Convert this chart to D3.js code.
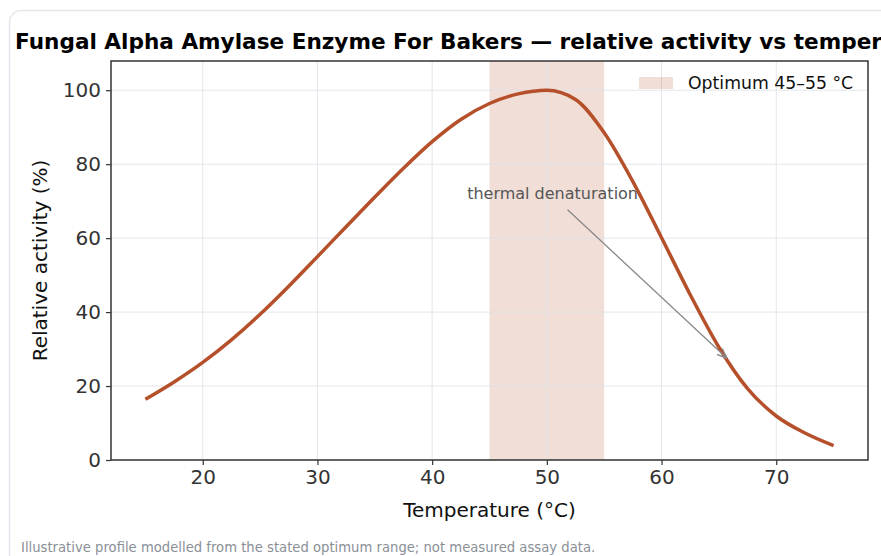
<!DOCTYPE html>
<html>
<head>
<meta charset="utf-8">
<script src="https://cdn.jsdelivr.net/npm/d3@7"></script>
<style>
  html, body { margin: 0; padding: 0; background: #fff; overflow: hidden; }
  text { font-family: "DejaVu Sans", sans-serif; }
</style>
</head>
<body>
<script>
'use strict';

// temperature (°C) and relative activity (%)
const temps = [15, 17.5, 20, 22.5, 25, 27.5, 30, 32.5, 35, 37.5, 40, 42.5, 45, 47.5, 50, 52.5, 55, 57.5, 60, 62.5, 65, 67.5, 70, 72.5, 75];
const activity = [16.4, 21.1, 26.4, 32.5, 39.4, 47.0, 55.0, 63.1, 71.1, 78.9, 86.1, 92.1, 96.4, 99.0, 100, 97.5, 88.5, 75.3, 60.1, 44.7, 30.5, 19.3, 11.9, 7.3, 3.9];
const xTicks = [20, 30, 40, 50, 60, 70];
const yTicks = [0, 20, 40, 60, 80, 100];
const optimum = [45, 55];
const pointer = { from: [50.5, 72], to: [65.7, 27.5] };

const W = 881, H = 556;
const plot = { left: 111, right: 868, top: 61, bottom: 460 };
const lineColor = "#b5502b";

let svg = d3.select("body").append("svg")
  .attr("width", W)
  .attr("height", H);

// card background
svg.append("rect")
  .attr("x", 9.5).attr("y", 10.5)
  .attr("width", 900).attr("height", 570)
  .attr("rx", 12)
  .attr("fill", "#fff")
  .attr("stroke", "#e3e6ea")
  .attr("stroke-width", 1.5);

let xScale = d3.scaleLinear().domain([12, 78]).range([plot.left, plot.right]);
let yScale = d3.scaleLinear().domain([0, 107.9]).range([plot.bottom, plot.top]);

// optimum band
svg.append("rect")
  .attr("x", xScale(optimum[0]))
  .attr("width", xScale(optimum[1]) - xScale(optimum[0]))
  .attr("y", plot.top)
  .attr("height", plot.bottom - plot.top)
  .attr("fill", lineColor)
  .attr("fill-opacity", 0.19);

// grid
let grid = svg.append("g").attr("opacity", 0.85);
grid.selectAll(".gx").data(xTicks).enter().append("line")
  .attr("x1", d => xScale(d)).attr("x2", d => xScale(d))
  .attr("y1", plot.top).attr("y2", plot.bottom)
  .attr("stroke", "#dfe3e8").attr("stroke-width", 1);
grid.selectAll(".gy").data(yTicks).enter().append("line")
  .attr("x1", plot.left).attr("x2", plot.right)
  .attr("y1", d => yScale(d)).attr("y2", d => yScale(d))
  .attr("stroke", "#dfe3e8").attr("stroke-width", 1);

// activity curve
let line = d3.line()
  .x((d, i) => xScale(temps[i]))
  .y(d => yScale(d))
  .curve(d3.curveMonotoneX);

svg.append("path")
  .datum(activity)
  .attr("d", line)
  .attr("fill", "none")
  .attr("stroke", lineColor)
  .attr("stroke-width", 3.5);

// annotation arrow
svg.append("defs").append("marker")
  .attr("id", "arrow")
  .attr("viewBox", "0 0 10 10")
  .attr("refX", 10).attr("refY", 5)
  .attr("markerWidth", 10).attr("markerHeight", 10)
  .attr("markerUnits", "userSpaceOnUse")
  .attr("orient", "auto")
  .append("path")
  .attr("d", "M0,1 L10,5 L0,9")
  .attr("fill", "none")
  .attr("stroke", "#888")
  .attr("stroke-width", 1.3);

let ax0 = xScale(pointer.from[0]) + 15, ay0 = yScale(pointer.from[1]) + 16;
svg.append("line")
  .attr("x1", ax0).attr("y1", ay0)
  .attr("x2", xScale(pointer.to[0])).attr("y2", yScale(pointer.to[1]))
  .attr("stroke", "#888")
  .attr("stroke-width", 1.3)
  .attr("marker-end", "url(#arrow)");

svg.append("text")
  .attr("x", xScale(pointer.from[0]))
  .attr("y", yScale(pointer.from[1]))
  .attr("text-anchor", "middle")
  .attr("dy", "0.35em")
  .style("font-size", "16px")
  .attr("fill", "#555")
  .text("thermal denaturation");

// axes
let xAxis = d3.axisBottom(xScale).tickValues(xTicks).tickSize(5).tickPadding(5);
let gx = svg.append("g")
  .attr("transform", "translate(0," + plot.bottom + ")")
  .call(xAxis);
let yAxis = d3.axisLeft(yScale).tickValues(yTicks).tickSize(5).tickPadding(5);
let gy = svg.append("g")
  .attr("transform", "translate(" + plot.left + ",0)")
  .call(yAxis);

[gx, gy].forEach(g => {
  g.select(".domain").remove();
  g.selectAll(".tick line").attr("stroke", "#333").attr("stroke-width", 1.2);
  g.selectAll(".tick text")
    .attr("fill", "#333")
    .style("font-family", "DejaVu Sans, sans-serif")
    .style("font-size", "20px");
});

// frame
svg.append("rect")
  .attr("x", plot.left).attr("y", plot.top)
  .attr("width", plot.right - plot.left)
  .attr("height", plot.bottom - plot.top)
  .attr("fill", "none")
  .attr("stroke", "#333")
  .attr("stroke-width", 1.5);

// legend
svg.append("rect")
  .attr("x", 639).attr("y", 77)
  .attr("width", 34).attr("height", 12)
  .attr("fill", lineColor)
  .attr("fill-opacity", 0.19);
svg.append("text")
  .attr("x", 688).attr("y", 83)
  .attr("dy", "0.35em")
  .style("font-size", "17.3px")
  .attr("fill", "#111")
  .text("Optimum 45–55 °C");

// labels (title runs past the right edge, as in the original)
svg.append("text")
  .attr("x", 15).attr("y", 49)
  .style("font-size", "21.6px")
  .style("font-weight", "bold")
  .attr("fill", "#000")
  .text("Fungal Alpha Amylase Enzyme For Bakers — relative activity vs temperature");

svg.append("text")
  .attr("x", (plot.left + plot.right) / 2).attr("y", 517)
  .attr("text-anchor", "middle")
  .style("font-size", "20px")
  .attr("fill", "#111")
  .text("Temperature (°C)");

svg.append("text")
  .attr("transform", "translate(47," + (plot.top + plot.bottom) / 2 + ") rotate(-90)")
  .attr("text-anchor", "middle")
  .style("font-size", "20px")
  .attr("fill", "#111")
  .text("Relative activity (%)");

svg.append("text")
  .attr("x", 21).attr("y", 552)
  .style("font-size", "13.2px")
  .attr("fill", "#8a8f96")
  .text("Illustrative profile modelled from the stated optimum range; not measured assay data.");
</script>
</body>
</html>
